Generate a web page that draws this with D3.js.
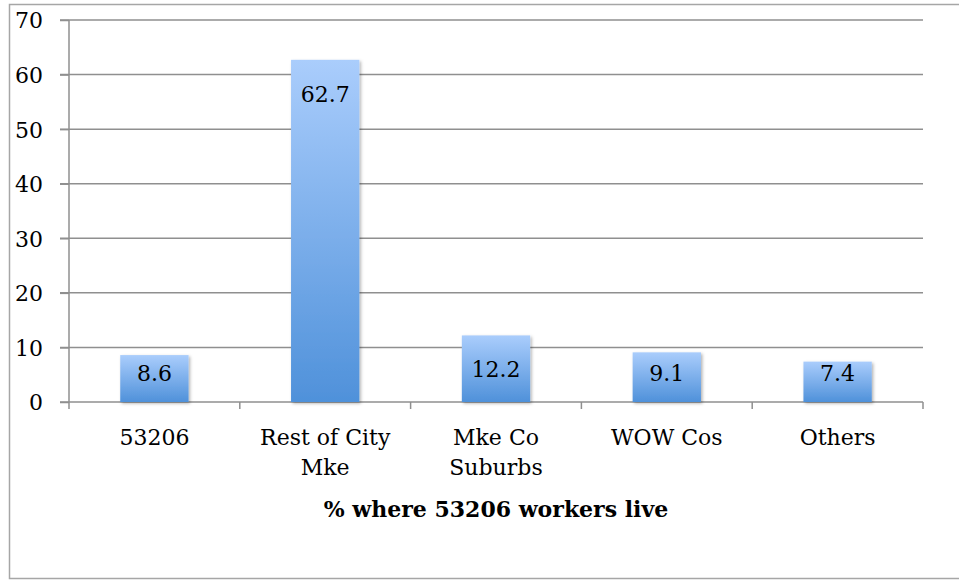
<!DOCTYPE html>
<html><head><meta charset="utf-8">
<script src="https://cdn.jsdelivr.net/npm/d3@7"></script>
<style>html,body{margin:0;padding:0;background:#fff;}svg{display:block;}</style>
</head><body>
<svg id="chart" width="959" height="580"></svg>
<script>
const categories = [["53206"], ["Rest of City", "Mke"], ["Mke Co", "Suburbs"], ["WOW Cos"], ["Others"]];
const values = [8.6, 62.7, 12.2, 9.1, 7.4];
const valueLabels = ["8.6", "62.7", "12.2", "9.1", "7.4"];
const yTicks = [0, 10, 20, 30, 40, 50, 60, 70];
const axisTitle = "% where 53206 workers live";

(function () {
const svg = d3.select("#chart");
const font = "'DejaVu Serif', serif";
const pL = 69, pR = 923, pT = 20, pB = 402;
const gridColor = "#8f8f8f";

svg.append("rect").attr("x", 9.5).attr("y", 4.5).attr("width", 970).attr("height", 574)
  .attr("fill", "#fff").attr("stroke", "#a6a6a6").attr("stroke-width", 1.5);

const defs = svg.append("defs");
const grad = defs.append("linearGradient").attr("id", "barGrad").attr("x1", 0).attr("y1", 0).attr("x2", 0).attr("y2", 1);
grad.append("stop").attr("offset", "0%").attr("stop-color", "#aacdfc");
grad.append("stop").attr("offset", "100%").attr("stop-color", "#4f91da");
const f = defs.append("filter").attr("id", "shadow").attr("x", "-20%").attr("y", "-20%").attr("width", "140%").attr("height", "140%");
f.append("feDropShadow").attr("dx", 1.5).attr("dy", 1.5).attr("stdDeviation", 1.8).attr("flood-color", "#000").attr("flood-opacity", 0.3);

const y = d3.scaleLinear().domain([0, 70]).range([pB, pT]);
const x = d3.scaleBand().domain(d3.range(values.length)).range([pL, pR]).paddingInner(0.6).paddingOuter(0.3);

svg.append("g").selectAll("line").data(yTicks.filter(d => d > 0)).join("line")
  .attr("x1", pL - 9).attr("x2", pR).attr("y1", d => y(d)).attr("y2", d => y(d))
  .attr("stroke", gridColor).attr("stroke-width", 1.5);

const yAxis = svg.append("g").attr("transform", `translate(${pL},0)`)
  .call(d3.axisLeft(y).tickValues(yTicks).tickSize(9).tickPadding(17).tickFormat(d3.format("d")));
yAxis.select(".domain").remove();
yAxis.selectAll(".tick line").attr("stroke", gridColor).attr("stroke-width", 1.5);
yAxis.selectAll(".tick text").attr("font-family", font).attr("font-size", 22).attr("fill", "#000").attr("dy", "0.36em");
svg.append("line").attr("x1", pL).attr("x2", pL).attr("y1", pT).attr("y2", pB + 7)
  .attr("stroke", gridColor).attr("stroke-width", 1.5);

svg.append("line").attr("x1", pL - 9).attr("x2", pR).attr("y1", pB).attr("y2", pB)
  .attr("stroke", gridColor).attr("stroke-width", 1.5);
const boundaries = d3.range(values.length + 1).map(i => pL + i * x.step());
svg.append("g").selectAll("line").data(boundaries.slice(1)).join("line")
  .attr("x1", d => d).attr("x2", d => d).attr("y1", pB).attr("y2", pB + 7)
  .attr("stroke", gridColor).attr("stroke-width", 1.5);

svg.append("g").selectAll("rect").data(values).join("rect")
  .attr("x", (d, i) => x(i)).attr("width", x.bandwidth())
  .attr("y", d => y(d)).attr("height", d => y(0) - y(d))
  .attr("fill", "url(#barGrad)").attr("filter", "url(#shadow)");

svg.append("g").selectAll("text").data(values).join("text")
  .attr("x", (d, i) => x(i) + x.bandwidth() / 2)
  .attr("y", d => Math.min(y(d) + 42, y(0) - 21))
  .attr("text-anchor", "middle").attr("font-family", font).attr("font-size", 22).attr("fill", "#000")
  .text((d, i) => valueLabels[i]);

const cat = svg.append("g").selectAll("text").data(categories).join("text")
  .attr("x", (d, i) => x(i) + x.bandwidth() / 2).attr("y", 445)
  .attr("text-anchor", "middle").attr("font-family", font).attr("font-size", 22).attr("fill", "#000");
cat.selectAll("tspan").data(d => d).join("tspan")
  .attr("x", function () { return d3.select(this.parentNode).attr("x"); })
  .attr("dy", (d, j) => j === 0 ? 0 : 30).text(d => d);

svg.append("text").attr("x", (pL + pR) / 2).attr("y", 517).attr("text-anchor", "middle")
  .attr("font-family", font).attr("font-size", 22).attr("font-weight", "bold").attr("fill", "#000")
  .text(axisTitle);
})();
</script>
</body></html>
